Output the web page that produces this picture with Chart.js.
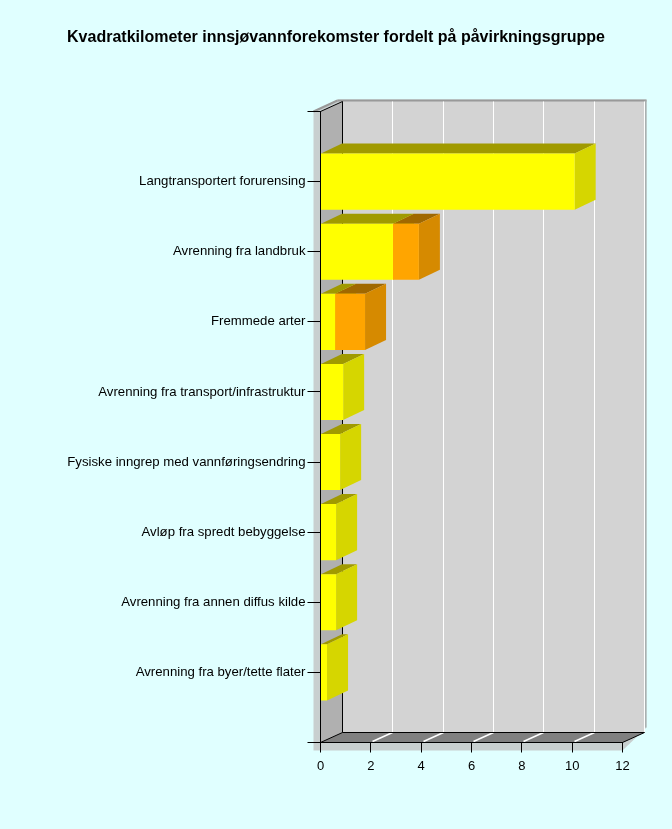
<!DOCTYPE html>
<html>
<head>
<meta charset="utf-8">
<style>
  html, body { margin: 0; padding: 0; background: #e0ffff; }
  canvas { display: block; }
</style>
<script src="https://cdn.jsdelivr.net/npm/chart.js@4/dist/chart.umd.min.js"></script>
</head>
<body>
<canvas id="chart" width="672" height="829"></canvas>
<script>
const categories = [
  'Langtransportert forurensing',
  'Avrenning fra landbruk',
  'Fremmede arter',
  'Avrenning fra transport/infrastruktur',
  'Fysiske inngrep med vannføringsendring',
  'Avløp fra spredt bebyggelse',
  'Avrenning fra annen diffus kilde',
  'Avrenning fra byer/tette flater',
];
const yellowValues = [10.1, 2.88, 0.58, 0.9, 0.78, 0.62, 0.62, 0.26];
const orangeValues = [null, 1.03, 1.19, null, null, null, null, null];

// oblique offset of the fake 3D depth
const depthX = 22;
const depthY = -10;
const barDepthX = 21;

const shades = {
  '#ffff00': { top: '#a09a00', side: '#d6d600' },
  '#ffa500': { top: '#a06800', side: '#d68a00' },
};

function poly(ctx, color, pts) {
  ctx.fillStyle = color;
  ctx.beginPath();
  pts.forEach(([x, y], i) => (i ? ctx.lineTo(x, y) : ctx.moveTo(x, y)));
  ctx.closePath();
  ctx.fill();
}

function segment(ctx, color, x1, y1, x2, y2) {
  ctx.strokeStyle = color;
  ctx.beginPath();
  ctx.moveTo(x1, y1);
  ctx.lineTo(x2, y2);
  ctx.stroke();
}

const walls3d = {
  id: 'walls3d',
  // title is centred on the whole canvas, not on the padded width
  afterLayout(chart) {
    chart.titleBlock.left = 0;
    chart.titleBlock.right = chart.width;
    chart.titleBlock.width = chart.width;
  },
  beforeDraw(chart) {
    const { ctx, chartArea: a, scales } = chart;
    const l = a.left, r = a.right, t = a.top, b = a.bottom;
    ctx.save();
    ctx.lineWidth = 1;
    // drop shadow behind the box
    poly(ctx, '#c8cfcf', [[l - 7, t], [l + depthX - 5, t + depthY - 2], [r + depthX + 2, t + depthY - 2],
      [r + depthX + 2, b + depthY - 5], [r, b + 8], [l - 7, b + 8]]);
    // back wall, left wall, floor
    poly(ctx, '#d3d3d3', [[l + depthX, t + depthY], [r + depthX, t + depthY], [r + depthX, b + depthY], [l + depthX, b + depthY]]);
    poly(ctx, '#b0b0b0', [[l, t], [l + depthX, t + depthY], [l + depthX, b + depthY], [l, b]]);
    poly(ctx, '#808080', [[l, b], [l + depthX, b + depthY], [r + depthX, b + depthY], [r, b]]);
    // top and right rim of the box
    ctx.lineWidth = 2;
    segment(ctx, '#999999', l - 7, t, l + depthX - 5, t + depthY - 1);
    segment(ctx, '#999999', l + depthX - 5, t + depthY - 1, r + depthX + 2, t + depthY - 1);
    segment(ctx, '#a8b0b0', r + depthX + 1, t + depthY - 1, r + depthX + 1, b + depthY - 5);
    ctx.lineWidth = 1;
    // grid on the wall and the floor
    scales.x.ticks.forEach((tick) => {
      if (tick.value === 0) return;
      const x = Math.floor(scales.x.getPixelForValue(tick.value)) + 0.5;
      segment(ctx, '#ffffff', x + depthX, t + depthY, x + depthX, b + depthY);
      if (tick.value < 12) {
        ctx.lineWidth = 1.6;
        segment(ctx, '#ffffff', x + 2, b - 1, x + depthX, b + depthY);
        ctx.lineWidth = 1;
      }
    });
    // box edges
    segment(ctx, '#000000', l + depthX, t + depthY, l + depthX, b + depthY);
    segment(ctx, '#000000', l, t, l + depthX, t + depthY);
    segment(ctx, '#000000', l, b, l + depthX, b + depthY);
    segment(ctx, '#000000', l + depthX, b + depthY, r + depthX, b + depthY);
    segment(ctx, '#000000', r, b, r + depthX, b + depthY);
    ctx.restore();
  },
  beforeDatasetsDraw(chart) {
    const { ctx } = chart;
    ctx.save();
    chart.data.datasets.forEach((ds, di) => {
      chart.getDatasetMeta(di).data.forEach((bar, i) => {
        if (ds.data[i] == null) return;
        const { x, y, base, height } = bar.getProps(['x', 'y', 'base', 'height'], true);
        const top = y - height / 2;
        const bottom = y + height / 2;
        const shade = shades[ds.backgroundColor];
        poly(ctx, shade.top, [[base, top], [x, top], [x + barDepthX, top + depthY], [base + barDepthX, top + depthY]]);
        poly(ctx, shade.side, [[x, top], [x + barDepthX, top + depthY], [x + barDepthX, bottom + depthY], [x, bottom]]);
      });
    });
    ctx.restore();
  },
};

new Chart(document.getElementById('chart').getContext('2d'), {
  type: 'bar',
  plugins: [walls3d],
  data: {
    // blank end labels give the two empty slots with ticks at the axis ends
    labels: ['', ...categories, ''],
    datasets: [
      { data: [null, ...yellowValues, null], backgroundColor: '#ffff00', borderWidth: 0 },
      { data: [null, ...orangeValues, null], backgroundColor: '#ffa500', borderWidth: 0 },
    ],
  },
  options: {
    indexAxis: 'y',
    responsive: false,
    animation: false,
    layout: { padding: { right: 49.5 } },
    datasets: { bar: { categoryPercentage: 1, barPercentage: 0.8 } },
    plugins: {
      legend: { display: false },
      tooltip: { enabled: false },
      title: {
        display: true,
        text: 'Kvadratkilometer innsjøvannforekomster fordelt på påvirkningsgruppe',
        color: '#000000',
        font: { family: '"Liberation Sans", Arial, sans-serif', size: 16, weight: 'bold' },
        padding: { top: 28, bottom: 64.3 },
      },
    },
    scales: {
      x: {
        stacked: true,
        min: 0,
        max: 12,
        afterFit: (scale) => { scale.height = 86.5; },
        grid: { drawOnChartArea: false, tickLength: 10, tickColor: '#000000' },
        border: { color: '#000000' },
        ticks: {
          stepSize: 2,
          maxRotation: 0,
          padding: 6,
          color: '#000000',
          font: { family: '"Liberation Sans", Arial, sans-serif', size: 13 },
        },
      },
      y: {
        stacked: true,
        offset: false,
        afterFit: (scale) => { scale.width = 320.5; },
        grid: { offset: false, drawOnChartArea: false, tickLength: 13, tickColor: '#000000' },
        border: { color: '#000000' },
        ticks: {
          autoSkip: false,
          padding: 2,
          color: '#000000',
          font: { family: '"Liberation Sans", Arial, sans-serif', size: 13.2 },
        },
      },
    },
  },
});
</script>
</body>
</html>
